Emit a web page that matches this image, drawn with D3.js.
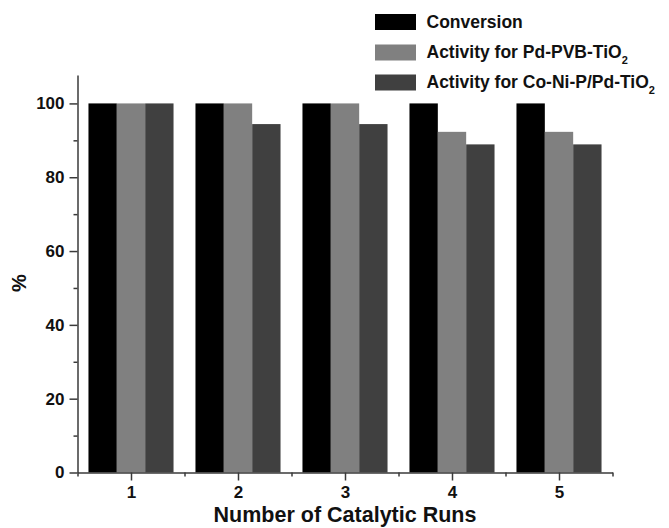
<!DOCTYPE html>
<html>
<head>
<meta charset="utf-8">
<script src="https://cdn.jsdelivr.net/npm/d3@7"></script>
<style>
  html, body { margin: 0; padding: 0; background: #fff; }
  svg { display: block; font-family: Arial, "Liberation Sans", sans-serif; font-weight: bold; }
</style>
</head>
<body>
<svg id="chart" width="669" height="528"></svg>
<script>
const runs = [1, 2, 3, 4, 5];
const conversion = [100, 100, 100, 100, 100];
const activityPdPVB = [100, 100, 100, 92.3, 92.3];
const activityCoNiP = [100, 94.4, 94.4, 88.9, 88.9];
const seriesNames = ["Conversion", "Activity for Pd-PVB-TiO", "Activity for Co-Ni-P/Pd-TiO"];
const seriesColors = ["#000000", "#808080", "#404040"];
const yTicks = [0, 20, 40, 60, 80, 100];
const yMinorTicks = [10, 30, 50, 70, 90];
const xMinorTicks = [0.5, 1.5, 2.5, 3.5, 4.5, 5.5];

const seriesValues = [conversion, activityPdPVB, activityCoNiP];

const svg = d3.select("#chart");
const x = d3.scaleLinear().domain([0.5, 5.5]).range([77.5, 612.5]);
const y = d3.scaleLinear().domain([0, 107.7]).range([472.5, 75]);

const groupWidth = x(1.795) - x(1);
const inner = d3.scaleBand().domain(d3.range(seriesNames.length)).range([0, groupWidth]).padding(0);

// bars
const groups = svg.append("g").selectAll("g")
  .data(runs).join("g")
  .attr("transform", d => `translate(${x(d) - groupWidth / 2},0)`);
groups.selectAll("rect")
  .data((d, i) => seriesValues.map((vals, s) => ({ s, v: vals[i] })))
  .join("rect")
  .attr("x", d => inner(d.s))
  .attr("width", inner.bandwidth())
  .attr("y", d => y(d.v))
  .attr("height", d => y(0) - y(d.v))
  .attr("fill", d => seriesColors[d.s]);

const axisColor = "#3a3a3a";

// y axis
svg.append("g").attr("transform", `translate(${x(0.5)},0)`)
  .call(d3.axisLeft(y).tickValues(yTicks).tickSize(8).tickPadding(5).tickSizeOuter(0));
svg.append("g").attr("transform", `translate(${x(0.5)},0)`)
  .call(d3.axisLeft(y).tickValues(yMinorTicks).tickSize(4).tickFormat("").tickSizeOuter(0))
  .select(".domain").remove();

// x axis
svg.append("g").attr("transform", `translate(0,${y(0)})`)
  .call(d3.axisBottom(x).tickValues(runs).tickSize(8).tickPadding(5).tickFormat(d3.format("d")).tickSizeOuter(0));
svg.append("g").attr("transform", `translate(0,${y(0)})`)
  .call(d3.axisBottom(x).tickValues(xMinorTicks).tickSize(4).tickFormat("").tickSizeOuter(0))
  .select(".domain").remove();

svg.selectAll(".domain").attr("stroke", axisColor).attr("stroke-width", 1.5);
svg.selectAll(".tick line").attr("stroke", axisColor).attr("stroke-width", 1.5);
svg.selectAll(".tick text")
  .attr("fill", "#111")
  .style("font-family", "Arial, 'Liberation Sans', sans-serif")
  .style("font-weight", "bold")
  .style("font-size", "17px");

// axis titles
svg.append("text")
  .attr("x", (x(0.5) + x(5.5)) / 2)
  .attr("y", 522)
  .attr("text-anchor", "middle")
  .style("font-size", "21.5px")
  .attr("fill", "#111")
  .text("Number of Catalytic Runs");

svg.append("text")
  .attr("transform", `translate(26,283) rotate(-90)`)
  .attr("text-anchor", "middle")
  .style("font-size", "20px")
  .attr("fill", "#111")
  .text("%");

// legend
const legend = svg.append("g");
const rowY = [22, 52.5, 82.5];
seriesNames.forEach((name, i) => {
  legend.append("rect")
    .attr("x", 375).attr("y", rowY[i] - 8)
    .attr("width", 41).attr("height", 16)
    .attr("fill", seriesColors[i]);
  const t = legend.append("text")
    .attr("x", 426.5).attr("y", rowY[i] + 5.5)
    .style("font-size", "17.5px")
    .attr("fill", "#111");
  t.append("tspan").text(name);
  if (i > 0) {
    t.append("tspan").attr("dy", 6).style("font-size", "11px").text("2");
  }
});
</script>
</body>
</html>
